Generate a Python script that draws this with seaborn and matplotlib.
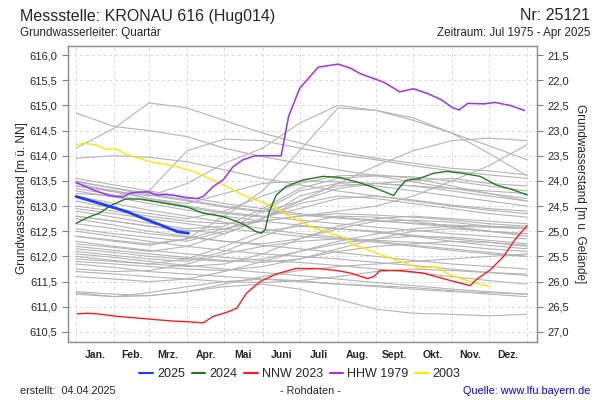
import numpy as np
import pandas as pd
import seaborn as sns
import matplotlib.pyplot as plt
from matplotlib.lines import Line2D
from matplotlib.ticker import FuncFormatter

# Tag im Jahr (0 = 1. Jan.) der Monatsgrenzen und Monatsnamen
month_days = [0, 31, 59, 90, 120, 151, 181, 212, 243, 273, 304, 334, 365]
month_labels = ["Jan.", "Feb.", "Mrz.", "Apr.", "Mai", "Juni",
                "Juli", "Aug.", "Sept.", "Okt.", "Nov.", "Dez."]

# Geländehöhe: m ü. NN = gelaende - m u. Gelände
gelaende = 637.5

# Ganglinien der übrigen Jahre (Werte an den Monatsgrenzen)
gray_years = [
    [614.85, 614.58, 614.50, 614.38, 614.15, 613.98, 613.85, 613.72, 613.60, 613.48, 613.35, 613.25, 613.15],
    [614.15, 614.55, 615.05, 614.95, 614.70, 614.45, 614.25, 614.08, 613.95, 613.85, 613.75, 613.70, 613.62],
    [613.95, 614.00, 613.97, 613.88, 613.72, 613.55, 613.42, 613.30, 613.20, 613.10, 613.00, 612.92, 612.85],
    [613.25, 613.20, 613.30, 614.10, 614.33, 614.30, 614.15, 614.02, 613.92, 613.80, 613.70, 613.62, 613.55],
    [612.40, 612.30, 612.22, 612.35, 612.80, 613.30, 614.10, 614.95, 614.90, 614.75, 614.45, 614.05, 613.60],
    [613.40, 613.30, 613.20, 613.45, 613.85, 614.15, 614.65, 615.00, 614.90, 614.70, 614.45, 614.20, 613.92],
    [612.80, 612.70, 612.60, 612.50, 612.55, 612.75, 613.10, 613.45, 613.80, 614.10, 614.30, 614.35, 614.30],
    [613.00, 612.90, 612.80, 612.70, 612.65, 612.70, 612.80, 612.90, 613.00, 613.20, 613.50, 613.80, 614.22],
    [613.55, 613.42, 613.30, 613.18, 613.05, 612.95, 612.85, 612.78, 612.72, 612.65, 612.58, 612.50, 612.45],
    [613.50, 613.35, 613.22, 613.10, 612.98, 612.88, 613.10, 613.35, 613.45, 613.40, 613.35, 613.30, 613.25],
    [613.45, 613.30, 613.15, 613.00, 612.88, 612.80, 612.72, 612.65, 612.58, 612.52, 612.45, 612.40, 612.35],
    [613.40, 613.28, 613.15, 613.05, 613.25, 613.45, 613.50, 613.48, 613.45, 613.50, 613.55, 613.45, 613.40],
    [613.30, 613.18, 613.05, 612.92, 612.80, 612.70, 612.62, 612.55, 612.50, 612.42, 612.35, 612.28, 612.20],
    [613.20, 613.05, 612.92, 612.80, 612.68, 612.55, 612.45, 612.38, 612.30, 612.22, 612.15, 612.08, 612.00],
    [613.10, 612.95, 612.85, 612.75, 612.90, 613.20, 613.45, 613.60, 613.62, 613.55, 613.40, 613.25, 613.10],
    [612.95, 612.85, 612.75, 612.65, 612.55, 612.48, 612.40, 612.35, 612.28, 612.20, 612.12, 612.05, 612.00],
    [612.80, 612.70, 612.60, 612.52, 612.45, 612.75, 613.20, 613.40, 613.45, 613.40, 613.30, 613.20, 613.10],
    [612.75, 612.62, 612.50, 612.40, 612.30, 612.22, 612.15, 612.08, 612.00, 611.92, 611.85, 611.80, 611.75],
    [612.55, 612.45, 612.38, 612.30, 612.50, 612.90, 613.30, 613.45, 613.40, 613.30, 613.20, 613.10, 613.00],
    [612.50, 612.40, 612.30, 612.20, 612.12, 612.05, 612.00, 611.95, 611.88, 611.82, 611.75, 611.68, 611.62],
    [612.40, 612.32, 612.25, 612.35, 612.55, 612.70, 612.80, 612.85, 612.82, 612.78, 612.72, 612.65, 612.60],
    [612.30, 612.20, 612.12, 612.05, 611.98, 611.92, 611.88, 611.82, 611.75, 611.68, 611.60, 611.52, 611.45],
    [612.25, 612.18, 612.10, 612.20, 612.45, 612.75, 613.05, 613.20, 613.15, 613.05, 612.95, 612.85, 612.78],
    [612.15, 612.08, 612.00, 611.95, 611.90, 611.95, 612.10, 612.25, 612.35, 612.40, 612.38, 612.32, 612.25],
    [612.10, 612.02, 611.95, 611.90, 612.10, 612.40, 612.65, 612.80, 612.78, 612.70, 612.60, 612.50, 612.40],
    [612.05, 611.98, 611.90, 611.82, 611.75, 611.68, 611.62, 611.55, 611.48, 611.42, 611.35, 611.30, 611.25],
    [611.95, 611.90, 611.85, 611.95, 612.20, 612.50, 612.60, 612.55, 612.48, 612.40, 612.30, 612.22, 612.15],
    [611.90, 611.85, 611.80, 611.75, 611.72, 611.80, 611.95, 612.15, 612.35, 612.50, 612.55, 612.50, 612.45],
    [611.85, 611.78, 611.70, 611.65, 611.60, 611.55, 611.50, 611.45, 611.42, 611.38, 611.32, 611.25, 611.20],
    [611.75, 611.70, 611.72, 611.85, 612.05, 612.20, 612.30, 612.35, 612.32, 612.28, 612.22, 612.15, 612.10],
    [611.60, 611.55, 611.50, 611.55, 611.70, 611.90, 612.10, 612.30, 612.45, 612.55, 612.60, 612.58, 612.55],
    [611.30, 611.25, 611.22, 611.30, 611.45, 611.60, 611.72, 611.80, 611.85, 611.90, 611.95, 612.00, 612.05],
    [611.25, 611.20, 611.28, 611.40, 611.50, 611.55, 611.52, 611.45, 611.40, 611.35, 611.30, 611.28, 611.25],
    [611.28, 611.20, 611.22, 611.30, 611.40, 611.45, 611.35, 611.15, 610.95, 610.87, 610.85, 610.82, 610.85],
    [613.35, 613.22, 613.10, 612.98, 612.85, 612.78, 612.95, 613.15, 613.20, 613.12, 613.02, 612.95, 612.90],
    [612.65, 612.55, 612.45, 612.38, 612.30, 612.25, 612.35, 612.55, 612.70, 612.72, 612.68, 612.60, 612.55],
    [613.48, 613.36, 613.25, 613.12, 613.00, 612.90, 612.82, 612.76, 612.70, 612.66, 612.62, 612.60, 612.58],
    [612.90, 612.78, 612.66, 612.55, 612.60, 612.95, 613.35, 613.55, 613.60, 613.58, 613.50, 613.40, 613.30],
    [612.20, 612.12, 612.05, 611.98, 611.92, 611.88, 611.95, 612.10, 612.20, 612.25, 612.30, 612.28, 612.22],
    [611.70, 611.65, 611.60, 611.55, 611.50, 611.48, 611.52, 611.60, 611.70, 611.75, 611.72, 611.68, 611.65],
    [612.00, 611.92, 611.85, 611.80, 611.85, 612.05, 612.35, 612.60, 612.75, 612.80, 612.75, 612.70, 612.65],
]

# hervorgehobene Jahre
days_2025 = [0, 14, 28, 41, 57, 68, 82, 91]
stand_2025 = [613.19, 613.09, 612.99, 612.89, 612.73, 612.63, 612.49, 612.46]

days_2024 = [0, 11, 19, 28, 40, 52, 60, 76, 90, 103, 119, 133, 146, 150, 153, 156, 162, 170,
             184, 200, 213, 230, 243, 257, 261, 267, 278, 289, 300, 313, 327, 340, 354, 365]
stand_2024 = [612.66, 612.79, 612.86, 613.01, 613.14, 613.14, 613.11, 613.04, 612.98, 612.86,
              612.79, 612.67, 612.49, 612.46, 612.53, 612.86, 613.22, 613.39, 613.52, 613.59,
              613.57, 613.46, 613.35, 613.21, 613.35, 613.51, 613.55, 613.65, 613.69, 613.65,
              613.59, 613.42, 613.32, 613.22]

days_nnw = [1, 9, 17, 33, 57, 76, 92, 103, 111, 122, 130, 138, 149, 162, 178, 195, 211, 222,
            236, 241, 246, 262, 281, 303, 319, 324, 335, 346, 356, 365]
stand_nnw = [610.86, 610.87, 610.86, 610.81, 610.76, 610.72, 610.70, 610.68, 610.81, 610.89,
             610.97, 611.27, 611.50, 611.65, 611.76, 611.76, 611.72, 611.67, 611.56, 611.60,
             611.72, 611.72, 611.67, 611.52, 611.42, 611.54, 611.73, 612.00, 612.36, 612.61]

days_hhw = [0, 14, 28, 38, 44, 52, 59, 65, 73, 80, 90, 98, 103, 111, 119, 127, 135, 145, 166,
            172, 181, 196, 212, 222, 230, 249, 262, 273, 284, 295, 305, 310, 317, 330, 339, 351, 363]
stand_hhw = [613.47, 613.32, 613.20, 613.18, 613.26, 613.28, 613.28, 613.22, 613.23, 613.21,
             613.16, 613.15, 613.19, 613.39, 613.52, 613.78, 613.92, 614.00, 614.00, 614.78,
             615.34, 615.76, 615.82, 615.74, 615.63, 615.46, 615.27, 615.33, 615.24, 615.12,
             614.95, 614.91, 615.04, 615.03, 615.06, 615.00, 614.90]

days_2003 = [0, 6, 17, 24, 33, 41, 60, 79, 95, 117, 138, 160, 168, 193, 219, 222, 254, 278,
             292, 303, 319, 335]
stand_2003 = [614.21, 614.25, 614.21, 614.13, 614.13, 614.02, 613.88, 613.80, 613.69, 613.45,
              613.19, 612.99, 612.86, 612.56, 612.36, 612.26, 611.97, 611.77, 611.79, 611.63,
              611.50, 611.40]

highlights = [
    ("2003", days_2003, stand_2003, "#ffe600", 1.0),
    ("HHW 1979", days_hhw, stand_hhw, "#9b30ff", 1.1),
    ("NNW 2023", days_nnw, stand_nnw, "#ff1a1a", 1.0),
    ("2024", days_2024, stand_2024, "#1f7a1f", 1.0),
    ("2025", days_2025, stand_2025, "#1e3cff", 2.0),
]

sns.set_style("white")
plt.rcParams["font.family"] = ["Liberation Sans", "DejaVu Sans"]

rows = []
for i, vals in enumerate(gray_years):
    for d, v in zip(month_days, vals):
        rows.append({"linie": i, "tag": d, "stand": v})
gray_df = pd.DataFrame(rows)

fig = plt.figure(figsize=(6, 4), dpi=100)
ax = fig.add_axes([68 / 600, 58 / 400, 469 / 600, 296 / 400])

sns.lineplot(data=gray_df, x="tag", y="stand", units="linie", estimator=None,
             color="#b4b4b4", linewidth=0.8, ax=ax, legend=False)

for name, d, s, c, lw in highlights:
    sns.lineplot(x=d, y=s, color=c, linewidth=lw, ax=ax)

ymin, ymax = 610.30, 616.18
ax.set_xlim(-6.5, 373)
ax.set_ylim(ymin, ymax)
ax.set_xlabel("")
ax.set_ylabel("")

comma = FuncFormatter(lambda v, p: f"{v:.1f}".replace(".", ","))
ax.set_yticks(np.arange(610.5, 616.01, 0.5))
ax.yaxis.set_major_formatter(comma)
ax.set_xticks(month_days)
ax.set_xticklabels([])
mid = [(month_days[i] + month_days[i + 1]) / 2 for i in range(12)]
ax.set_xticks(mid, minor=True)
ax.set_xticklabels(month_labels, minor=True, fontsize=7.5, fontweight="bold")
ax.tick_params(axis="x", which="minor", length=0, pad=6)
ax.tick_params(axis="x", which="major", length=4, color="#808080", direction="out")
ax.tick_params(axis="y", length=4, color="#808080", labelsize=8, direction="out")
ax.grid(True, which="major", color="#d9d9d9", linestyle=(0, (3, 3)), linewidth=0.7)
for sp in ax.spines.values():
    sp.set_color("#909090")
    sp.set_linewidth(1.0)

ax2 = ax.twinx()
ax2.set_ylim(gelaende - ymin, gelaende - ymax)
ax2.set_yticks(np.arange(21.5, 27.01, 0.5))
ax2.yaxis.set_major_formatter(comma)
ax2.tick_params(axis="y", length=4, color="#808080", labelsize=8, direction="out")
for sp in ax2.spines.values():
    sp.set_color("#909090")

fig.text(22 / 600, 0.505, "Grundwasserstand [m ü. NN]", rotation=90,
         ha="center", va="center", fontsize=8.5)
fig.text(580 / 600, 0.515, "Grundwasserstand [m u. Gelände]", rotation=270,
         ha="center", va="center", fontsize=8.5)

fig.text(20 / 600, 1 - 16 / 400, "Messstelle: KRONAU 616 (Hug014)", fontsize=11.5,
         ha="left", va="center")
fig.text(590 / 600, 1 - 16 / 400, "Nr: 25121", fontsize=11.5, ha="right", va="center")
fig.text(20 / 600, 1 - 33 / 400, "Grundwasserleiter: Quartär", fontsize=8.4,
         ha="left", va="center")
fig.text(590 / 600, 1 - 33 / 400, "Zeitraum: Jul 1975 - Apr 2025", fontsize=8.4,
         ha="right", va="center")

handles = [Line2D([], [], color=c, linewidth=1.5) for _, _, _, c, _ in highlights[::-1]]
labels = [n for n, _, _, _, _ in highlights[::-1]]
fig.legend(handles, labels, loc="center", bbox_to_anchor=(0.5, 1 - 374 / 400), ncol=5,
           frameon=False, fontsize=9, handlelength=1.1, handletextpad=0.3,
           columnspacing=0.55)

fig.text(20 / 600, 1 - 391 / 400, "erstellt:  04.04.2025", fontsize=7.8,
         ha="left", va="center")
fig.text(310 / 600, 1 - 391 / 400, "- Rohdaten -", fontsize=7.8, ha="center", va="center")
fig.text(590 / 600, 1 - 391 / 400, "Quelle: www.lfu.bayern.de", fontsize=7.8,
         ha="right", va="center", color="#0000ff")

fig.savefig("out.png", dpi=100, facecolor="white")
